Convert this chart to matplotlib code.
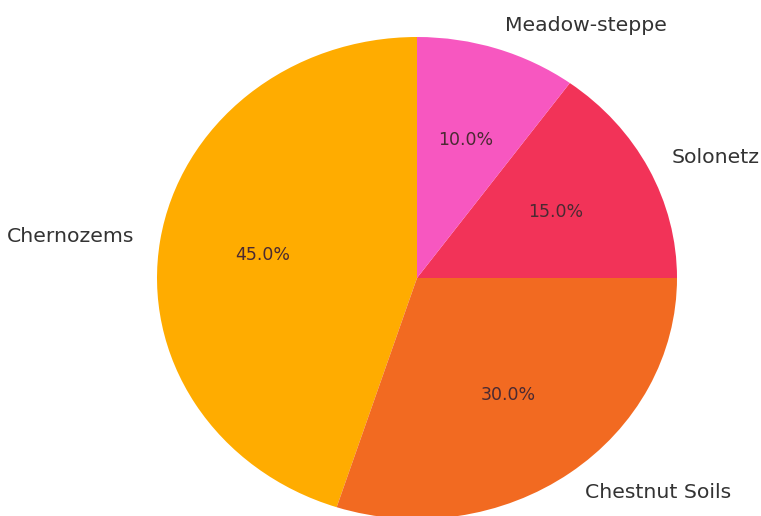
import matplotlib.pyplot as plt

# Soil types and their shares
labels = ['Chernozems', 'Chestnut Soils', 'Solonetz', 'Meadow-steppe']
shares = [45, 30, 15, 10]
colors = ['#FFAC00', '#F26A21', '#F23358', '#F757C0']

W, H = 761, 516
fig = plt.figure(figsize=(W / 100, H / 100), dpi=100)

# pie is slightly stretched horizontally in the reference
cx, cy, rx, ry = 417, 516 - 278, 260, 241
ax = fig.add_axes([(cx - rx) / W, (cy - ry) / H, 2 * rx / W, 2 * ry / H])

wedges, texts, autotexts = ax.pie(shares, labels=labels, colors=colors,
                                  autopct='%1.1f%%', startangle=90,
                                  textprops={'color': '#333333'})
for t in texts:
    t.set_fontsize(14.7)
for t in autotexts:
    t.set_fontsize(12.5)
    t.set_color('#4a2a32')

ax.set_aspect('auto')
ax.set_xlim(-1, 1)
ax.set_ylim(-1, 1)

fig.savefig('out.png', dpi=100)
